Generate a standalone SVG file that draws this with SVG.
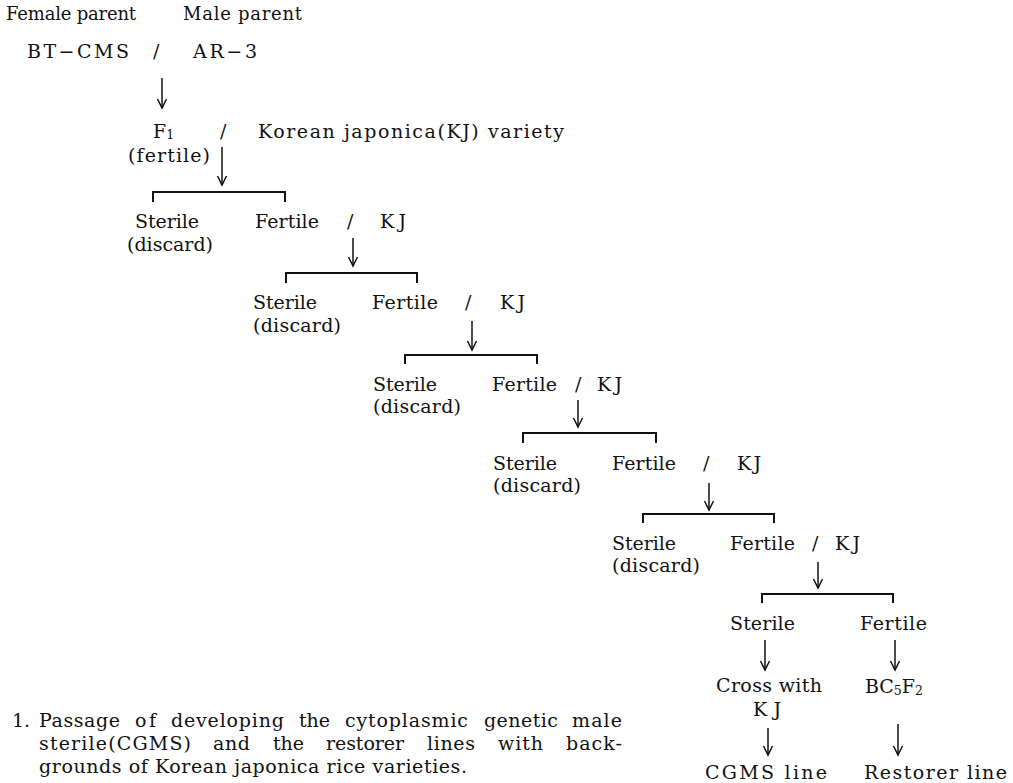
<svg xmlns="http://www.w3.org/2000/svg" width="1013" height="783" viewBox="0 0 1013 783">
<defs>
<marker id="ah" viewBox="-10 -6 12 12" markerWidth="12" markerHeight="12" refX="0" refY="0" orient="auto" markerUnits="userSpaceOnUse">
<path d="M-9,-4.5 L0,0 L-9,4.5" fill="none" stroke="#111" stroke-width="1.5"/>
</marker>
<style>
text{font-family:"DejaVu Serif","Liberation Serif",serif;font-size:19px;fill:#111}
.sub{font-size:12.5px}
.hd{font-size:18px}
.ar{stroke:#111;stroke-width:1.5;fill:none;marker-end:url(#ah)}
.br{stroke:#111;stroke-width:2;fill:none}
</style>
</defs>
<rect width="1013" height="783" fill="#fff"/>
<g id="connectors">
<line class="ar" x1="162" y1="78" x2="162" y2="108"/>
<line class="ar" x1="222" y1="147" x2="222" y2="185"/>
<path class="br" d="M153,202 V192 H285 V202"/>
<line class="ar" x1="353" y1="238" x2="353" y2="266"/>
<path class="br" d="M286,283 V273 H417 V283"/>
<line class="ar" x1="472" y1="321" x2="472" y2="350"/>
<path class="br" d="M405,364 V355 H537 V364"/>
<line class="ar" x1="578" y1="400" x2="578" y2="427"/>
<path class="br" d="M523,443 V433 H656 V443"/>
<line class="ar" x1="709" y1="483" x2="709" y2="510"/>
<path class="br" d="M643,523 V514 H774 V523"/>
<line class="ar" x1="818" y1="562" x2="818" y2="588"/>
<path class="br" d="M762,603 V594 H893 V603"/>
<line class="ar" x1="765" y1="640" x2="765" y2="670"/>
<line class="ar" x1="895" y1="640" x2="895" y2="670"/>
<line class="ar" x1="768" y1="728" x2="768" y2="755"/>
<line class="ar" x1="898" y1="724" x2="898" y2="755"/>
</g>
<g id="n-headers">
<text class="hd" x="6" y="20" textLength="130" lengthAdjust="spacing">Female parent</text>
<text class="hd" x="183" y="20" textLength="119" lengthAdjust="spacing">Male parent</text>
</g>
<g id="n-cross">
<text x="27" y="58" textLength="102" lengthAdjust="spacing">BT−CMS</text>
<text x="153" y="58">/</text>
<text x="193" y="58" textLength="64" lengthAdjust="spacing">AR−3</text>
</g>
<g id="n-f1">
<text x="153" y="138">F<tspan class="sub" dy="1">1</tspan></text>
<text x="220" y="138">/</text>
<text x="258" y="138" textLength="306" lengthAdjust="spacing">Korean japonica(KJ) variety</text>
<text x="128" y="162" textLength="82" lengthAdjust="spacing">(fertile)</text>
</g>
<g id="n-bc1">
<text x="135" y="228" textLength="64" lengthAdjust="spacing">Sterile</text>
<text x="127" y="251" textLength="86" lengthAdjust="spacing">(discard)</text>
<text x="255" y="228" textLength="64" lengthAdjust="spacing">Fertile</text>
<text x="347" y="228">/</text>
<text x="380" y="228" textLength="26" lengthAdjust="spacing">KJ</text>
</g>
<g id="n-bc2">
<text x="253" y="309" textLength="64" lengthAdjust="spacing">Sterile</text>
<text x="253" y="332" textLength="88" lengthAdjust="spacing">(discard)</text>
<text x="372" y="309" textLength="66" lengthAdjust="spacing">Fertile</text>
<text x="465" y="309">/</text>
<text x="500" y="309" textLength="25" lengthAdjust="spacing">KJ</text>
</g>
<g id="n-bc3">
<text x="373" y="391" textLength="64" lengthAdjust="spacing">Sterile</text>
<text x="373" y="413" textLength="88" lengthAdjust="spacing">(discard)</text>
<text x="492" y="391" textLength="65" lengthAdjust="spacing">Fertile</text>
<text x="575" y="391">/</text>
<text x="597" y="391" textLength="25" lengthAdjust="spacing">KJ</text>
</g>
<g id="n-bc4">
<text x="493" y="470" textLength="64" lengthAdjust="spacing">Sterile</text>
<text x="493" y="492" textLength="88" lengthAdjust="spacing">(discard)</text>
<text x="612" y="470" textLength="64" lengthAdjust="spacing">Fertile</text>
<text x="703" y="470">/</text>
<text x="737" y="470" textLength="24" lengthAdjust="spacing">KJ</text>
</g>
<g id="n-bc5">
<text x="612" y="550" textLength="64" lengthAdjust="spacing">Sterile</text>
<text x="612" y="572" textLength="88" lengthAdjust="spacing">(discard)</text>
<text x="730" y="550" textLength="65" lengthAdjust="spacing">Fertile</text>
<text x="812" y="550">/</text>
<text x="835" y="550" textLength="25" lengthAdjust="spacing">KJ</text>
</g>
<g id="n-final">
<text x="730" y="630" textLength="65" lengthAdjust="spacing">Sterile</text>
<text x="860" y="630" textLength="67" lengthAdjust="spacing">Fertile</text>
</g>
<g id="n-cross-kj">
<text x="716" y="692" textLength="106" lengthAdjust="spacing">Cross with</text>
<text x="753" y="716" textLength="28" lengthAdjust="spacing">KJ</text>
</g>
<g id="n-bc5f2">
<text x="865" y="693">BC<tspan class="sub" dy="2">5</tspan><tspan dy="-2">F</tspan><tspan class="sub" dy="2">2</tspan></text>
</g>
<g id="n-cgms">
<text x="705" y="779" textLength="122" lengthAdjust="spacing">CGMS line</text>
</g>
<g id="n-restorer">
<text x="864" y="779" textLength="143" lengthAdjust="spacing">Restorer line</text>
</g>
<g id="caption">
<text x="12" y="727">1.</text>
<text x="39" y="727" textLength="81" lengthAdjust="spacing">Passage</text>
<text x="135" y="727" textLength="21" lengthAdjust="spacing">of</text>
<text x="171" y="727" textLength="113" lengthAdjust="spacing">developing</text>
<text x="299" y="727" textLength="31" lengthAdjust="spacing">the</text>
<text x="345" y="727" textLength="123" lengthAdjust="spacing">cytoplasmic</text>
<text x="484" y="727" textLength="74" lengthAdjust="spacing">genetic</text>
<text x="572" y="727" textLength="50" lengthAdjust="spacing">male</text>
<text x="39" y="750" textLength="152" lengthAdjust="spacing">sterile(CGMS)</text>
<text x="213" y="750" textLength="37" lengthAdjust="spacing">and</text>
<text x="273" y="750" textLength="31" lengthAdjust="spacing">the</text>
<text x="326" y="750" textLength="78" lengthAdjust="spacing">restorer</text>
<text x="427" y="750" textLength="48" lengthAdjust="spacing">lines</text>
<text x="498" y="750" textLength="45" lengthAdjust="spacing">with</text>
<text x="566" y="750" textLength="56" lengthAdjust="spacing">back-</text>
<text x="39" y="773" textLength="428" lengthAdjust="spacing">grounds of Korean japonica rice varieties.</text>
</g>
</svg>
